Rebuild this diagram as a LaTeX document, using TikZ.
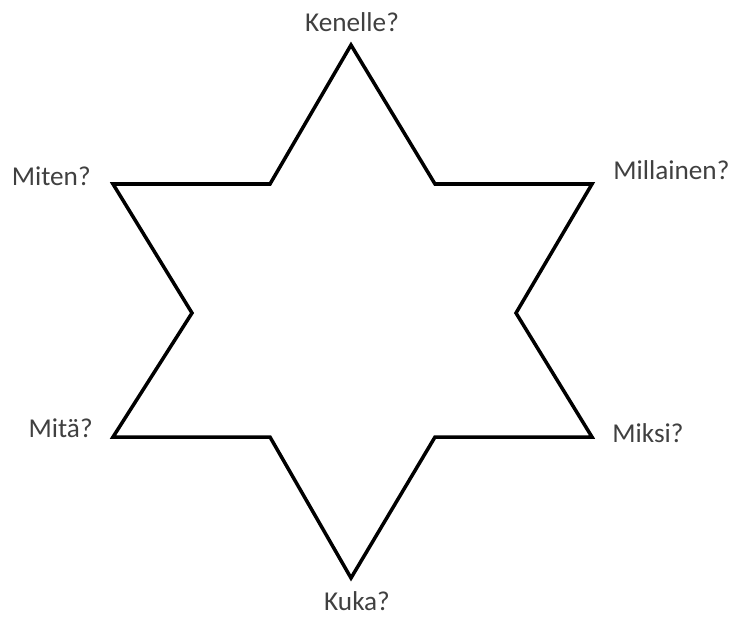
\documentclass[tikz,border=0pt]{standalone}
\usepackage{fontspec}
\setmainfont{Carlito}
\usetikzlibrary{positioning, calc}
\definecolor{LabelGray}{rgb}{0.25, 0.25, 0.25}

\begin{document}
\begin{tikzpicture}[
    x=0.02cm, y=-0.02cm,
    edge/.style={line width=2pt, black, line join=miter},
    lbl/.style={text=LabelGray, inner sep=0pt, font=\fontsize{15.5}{18}\selectfont},
]
\useasboundingbox (0,0) rectangle (733,616);

% ================= puntas de la estrella =================
\coordinate (top)  at (351,45);
\coordinate (ur)   at (592,184);
\coordinate (lr)   at (592,437);
\coordinate (bot)  at (351,578);
\coordinate (ll)   at (113,437);
\coordinate (ul)   at (113,184);

% esquinas interiores
\coordinate (iur)  at (435,184);
\coordinate (ir)   at (516,313);
\coordinate (ilr)  at (435,437);
\coordinate (ill)  at (270,437);
\coordinate (il)   at (192,313);
\coordinate (iul)  at (270,184);

\draw[edge] (top) -- (iur) -- (ur) -- (ir) -- (lr) -- (ilr) -- (bot)
    -- (ill) -- (ll) -- (il) -- (ul) -- (iul) -- cycle;

% ================= preguntas =================
\node[lbl, anchor=center] (kenelle)   at (352,22)  {Kenelle?};
\node[lbl, anchor=east]   (miten)     at (91,176)  {Miten?};
\node[lbl, anchor=west]   (millainen) at (613,170) {Millainen?};
\node[lbl, anchor=east]   (mita)      at (93,428)  {Mitä?};
\node[lbl, anchor=west]   (miksi)     at (612,433) {Miksi?};
\node[lbl, anchor=center] (kuka)      at (357,601) {Kuka?};

\end{tikzpicture}
\end{document}
